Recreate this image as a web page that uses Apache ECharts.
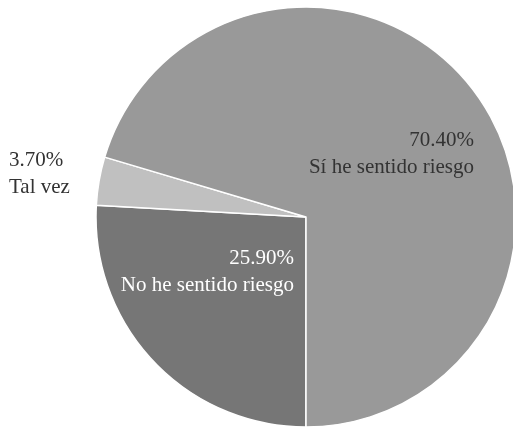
<!DOCTYPE html>
<html><head><meta charset="utf-8">
<script src="https://cdn.jsdelivr.net/npm/echarts@6/dist/echarts.min.js"></script>
<style>html,body{margin:0;padding:0;background:#fff}#c{width:513px;height:429px}</style>
</head><body><div id="c"></div>
<script>
var categories = ["No he sentido riesgo", "Tal vez", "Sí he sentido riesgo"];
var values = [25.9, 3.7, 70.4];
var colors = ["#767676", "#c0c0c0", "#999999"];
var labelColors = ["#ffffff", "#333333", "#333333"];
var labelSpots = [
  {x: 294, y: 272, align: "right"},
  {x: 9, y: 174, align: "left"},
  {x: 474, y: 154, align: "right"}
];
var chart = echarts.init(document.getElementById('c'));
chart.setOption({
  animation: false,
  series: [{
    type: 'pie',
    center: [306, 217],
    radius: [0, 210],
    startAngle: 270,
    clockwise: true,
    avoidLabelOverlap: false,
    itemStyle: {borderColor: '#ffffff', borderWidth: 1.5},
    labelLine: {show: false},
    label: {
      show: true,
      position: 'inside',
      fontFamily: 'Liberation Serif',
      fontSize: 21,
      lineHeight: 27,
      formatter: function (p) { return p.value.toFixed(2) + '%\n' + p.name; }
    },
    labelLayout: function (p) {
      var s = labelSpots[p.dataIndex];
      return {x: s.x, y: s.y, align: s.align, verticalAlign: 'middle'};
    },
    data: categories.map(function (c, i) {
      return {name: c, value: values[i], itemStyle: {color: colors[i]},
        label: {color: labelColors[i], align: labelSpots[i].align}};
    })
  }]
});
</script></body></html>
